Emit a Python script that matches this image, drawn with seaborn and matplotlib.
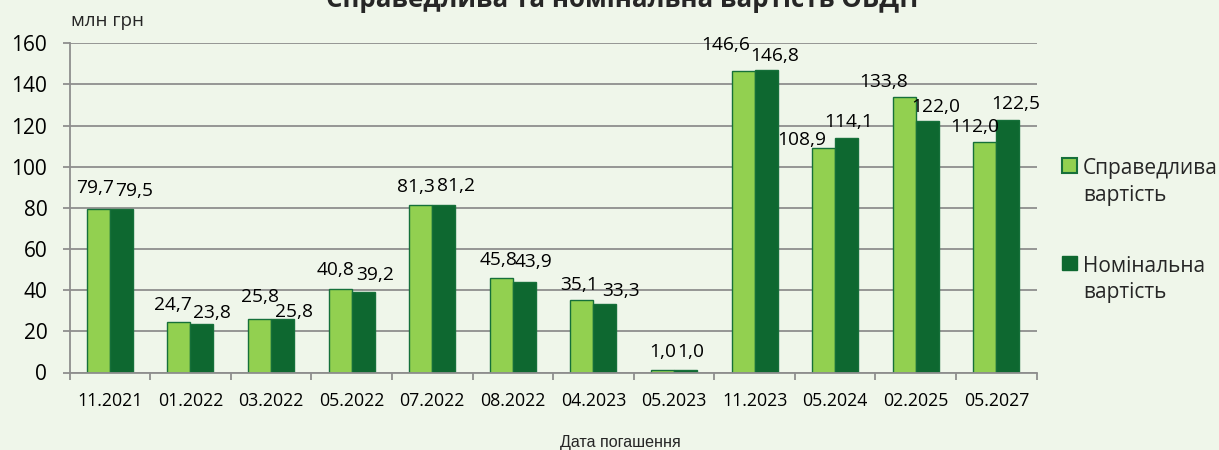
import matplotlib
matplotlib.use("Agg")
import matplotlib.pyplot as plt
import seaborn as sns
import pandas as pd
from matplotlib.patches import Patch

# ---- data ----
categories = ["11.2021", "01.2022", "03.2022", "05.2022", "07.2022", "08.2022",
              "04.2023", "05.2023", "11.2023", "05.2024", "02.2025", "05.2027"]
fair_value = [79.7, 24.7, 25.8, 40.8, 81.3, 45.8, 35.1, 1.0, 146.6, 108.9, 133.8, 112.0]
nominal_value = [79.5, 23.8, 25.8, 39.2, 81.2, 43.9, 33.3, 1.0, 146.8, 114.1, 122.0, 122.5]
series_names = ["Справедлива вартість", "Номінальна вартість"]
legend_labels = ["Справедлива\nвартість", "Номінальна\nвартість"]
y_ticks = [0, 20, 40, 60, 80, 100, 120, 140, 160]
title = "Справедлива та номінальна вартість ОВДП"
y_unit = "млн грн"
x_title = "Дата погашення"

# label nudges (pixels) relative to the bar top centre
fair_dx = [-3, -6, 0, -5, -5, -3, -3, 0, -17, -22, -21, -10]
fair_dy = [21, 17, 22, 19, 18, 18, 15, 18, 26, 8, 15, 15]
nom_dx = [13, 10, 12, 12, 12, 9, 16, 5, 9, 2, 8, 8]
nom_dy = [18, 11, 7, 17, 19, 20, 13, 18, 14, 16, 14, 16]

# ---- style ----
BG = "#EFF6EA"
LIGHT = "#92D050"
DARK = "#0E6830"
EDGE = "#16703A"
GRID = "#8E8E8E"
W, H = 1219, 450

df = pd.DataFrame({
    "date": categories * 2,
    "value": fair_value + nominal_value,
    "series": [series_names[0]] * len(categories) + [series_names[1]] * len(categories),
})

sns.set_theme(style="white")
plt.rcParams["font.family"] = ["Open Sans", "DejaVu Sans"]

fig = plt.figure(figsize=(W / 100, H / 100), dpi=100, facecolor=BG)
left, right, top, bottom = 69.5, 1036.7, 43.3, 372.5
ax = fig.add_axes([left / W, 1 - bottom / H, (right - left) / W, (bottom - top) / H])
ax.set_facecolor(BG)

sns.barplot(data=df, x="date", y="value", hue="series", order=categories,
            hue_order=series_names, palette=[LIGHT, DARK], saturation=1,
            width=0.57, gap=0, edgecolor=EDGE, linewidth=1.0, ax=ax,
            legend=False, errorbar=None)

ax.set_xlim(-0.5, len(categories) - 0.5)
ax.set_ylim(0, 160)
ax.set_yticks(y_ticks)
ax.set_yticklabels([str(v) for v in y_ticks])
ax.yaxis.grid(True, color=GRID, linewidth=1.3)
ax.xaxis.grid(False)
ax.set_axisbelow(True)
for s in ["top", "right"]:
    ax.spines[s].set_visible(False)
for s in ["left", "bottom"]:
    ax.spines[s].set_color(GRID)
    ax.spines[s].set_linewidth(1.3)

ax.tick_params(axis="y", which="major", direction="out", length=5, width=1.3,
               color=GRID, labelsize=15, pad=11, left=True, labelcolor="black")
ax.set_xticks(range(len(categories)))
ax.set_xticklabels(categories)
ax.set_xticks([i - 0.5 for i in range(len(categories) + 1)], minor=True)
ax.tick_params(axis="x", which="major", length=0, labelsize=12.8, pad=14, labelcolor="black")
ax.tick_params(axis="x", which="minor", direction="out", length=5, width=1.3,
               color=GRID, bottom=True)
ax.set_xlabel("")
ax.set_ylabel("")

# data labels
for cont, dxs, dys in zip(ax.containers, [fair_dx, nom_dx], [fair_dy, nom_dy]):
    for rect, dx, dy in zip(cont.patches, dxs, dys):
        h = rect.get_height()
        ax.annotate(f"{h:.1f}".replace(".", ","),
                    xy=(rect.get_x() + rect.get_width() / 2, h),
                    xytext=(dx, dy), textcoords="offset pixels",
                    ha="center", va="center", fontsize=13.8, color="black",
                    annotation_clip=False)

# texts
fig.text(622 / W, 1 - 7 / H, title, ha="center", va="baseline",
         fontsize=18.6, fontweight="bold")
fig.text(71 / W, 1 - 21 / H, y_unit, ha="left", va="center", fontsize=13.5)
fig.text(620 / W, 1 - 442 / H, x_title, ha="center", va="center",
         fontsize=11.6, family=["Liberation Sans", "DejaVu Sans"])

# legend
handles = [Patch(facecolor=LIGHT, edgecolor=EDGE, linewidth=1.5),
           Patch(facecolor=DARK, edgecolor=DARK, linewidth=1.0)]
leg = fig.legend(handles, legend_labels, loc="upper left",
                 bbox_to_anchor=(1062 / W, 1 - 158 / H), frameon=False,
                 fontsize=15, handlelength=0.7, handleheight=0.7,
                 handletextpad=0.3, labelspacing=2.4, borderpad=0, borderaxespad=0)
for t in leg.get_texts():
    t.set_linespacing(1.35)
try:
    for col in leg._legend_handle_box.get_children():
        for item in col.get_children():
            item.align = "top"
except Exception:
    pass

fig.savefig("out.png", dpi=100, facecolor=BG)
